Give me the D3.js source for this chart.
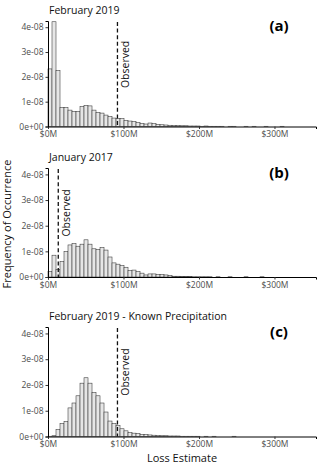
<!DOCTYPE html>
<html>
<head>
<meta charset="utf-8">
<script src="https://cdn.jsdelivr.net/npm/d3@7"></script>
<style>
  body { margin: 0; background: #fff; }
  svg text { font-family: "Open Sans", "Noto Sans", sans-serif; }
</style>
</head>
<body>
<div id="chart"></div>
<script>
// histogram bin width, in millions of dollars
let binWidth = 5.3

// bar heights, in units of 1e-08 (one value per bin, starting at $0M)
let densA = [2.32, 4.22, 2.25, 0.77, 0.76, 0.66, 0.61, 0.61, 0.80, 0.85,
  0.83, 0.66, 0.57, 0.54, 0.46, 0.40, 0.34, 0.33, 0.32, 0.25,
  0.22, 0.21, 0.16, 0.13, 0.10, 0.14, 0.12, 0.08, 0.07, 0.06,
  0.05, 0.04, 0.04, 0.03, 0.03, 0.02, 0.02, 0.02, 0.01, 0.02,
  0.01, 0.01, 0.01, 0.01, 0.00, 0.01, 0.01, 0.00, 0.00, 0.01,
  0.00, 0.01, 0.00, 0.00, 0.01, 0.00, 0.00, 0.00, 0.01, 0.00]

let densB = [0.22, 0.85, 0.30, 0.60, 1.00, 1.25, 1.30, 1.20, 1.28, 1.45,
  1.28, 1.10, 1.08, 1.15, 1.05, 0.78, 0.55, 0.50, 0.45, 0.38,
  0.25, 0.27, 0.22, 0.15, 0.08, 0.12, 0.12, 0.10, 0.10, 0.08,
  0.06, 0.03, 0.03, 0.02, 0.02, 0.02, 0.01, 0.01, 0.01, 0.01,
  0.01, 0.00, 0.01, 0.00, 0.00, 0.01, 0.00, 0.00, 0.00, 0.01,
  0.00, 0.00, 0.00, 0.01, 0.00, 0.00, 0.00, 0.00, 0.00, 0.00]

let densC = [0.01, 0.03, 0.27, 0.50, 0.59, 1.11, 1.30, 1.58, 2.07, 2.28,
  2.07, 1.71, 1.58, 1.30, 0.95, 0.60, 0.50, 0.42, 0.30, 0.22,
  0.15, 0.13, 0.12, 0.08, 0.07, 0.06, 0.05, 0.04, 0.03, 0.03,
  0.02, 0.02, 0.02, 0.01, 0.01, 0.01, 0.01, 0.01, 0.00, 0.01,
  0.00, 0.01, 0.00, 0.00, 0.00, 0.00, 0.01, 0.00, 0.00, 0.00]

// observed losses, in millions
let observed = [92, 13.6, 92]

let titles = ["February 2019", "January 2017", "February 2019 - Known Precipitation"]
let tags = ["(a)", "(b)", "(c)"]

let xTicks = [0, 100, 200, 300]
let xTickLabels = ["$0M", "$100M", "$200M", "$300M"]
let yTicks = [0, 1e-8, 2e-8, 3e-8, 4e-8]
let yTickLabels = ["0e+00", "1e-08", "2e-08", "3e-08", "4e-08"]

let width = 320, height = 466

let svg = d3.select("#chart")
  .append("svg")
  .attr("width", width)
  .attr("height", height)

// vertical extent of each panel
let panelBoxes = [
  {top: 21, bottom: 126.5},
  {top: 168, bottom: 277},
  {top: 327, bottom: 436.5}
]

let x = d3.scaleLinear().domain([0, 355]).range([48, 316])

let allDens = [densA, densB, densC]

allDens.forEach(function(dens, k) {
  drawPanel(dens, k)
})

function drawPanel(dens, k) {
  let box = panelBoxes[k]
  let y = d3.scaleLinear().domain([0, 4.25e-8]).range([box.bottom, box.top])
  let g = svg.append("g")

  // bars
  g.selectAll("rect")
    .data(dens)
    .enter()
    .append("rect")
    .attr("x", function(d, i) { return x(i * binWidth) })
    .attr("width", function(d, i) { return x((i + 1) * binWidth) - x(i * binWidth) })
    .attr("y", function(d) { return y(d * 1e-8) })
    .attr("height", function(d) { return box.bottom - y(d * 1e-8) })
    .attr("fill", "#e6e6e6")
    .attr("stroke", "#333")
    .attr("stroke-width", 0.55)

  // axes
  let xAxis = d3.axisBottom(x)
    .tickValues(xTicks)
    .tickFormat(function(d, i) { return xTickLabels[i] })
    .tickSize(2.5)
    .tickPadding(2)
  let yAxis = d3.axisLeft(y)
    .tickValues(yTicks)
    .tickFormat(function(d, i) { return yTickLabels[i] })
    .tickSize(2.5)
    .tickPadding(2)

  g.append("g")
    .attr("transform", "translate(0," + box.bottom + ")")
    .call(xAxis)
    .call(styleAxis)
  g.append("g")
    .attr("transform", "translate(" + x(0) + ",0)")
    .call(yAxis)
    .call(styleAxis)

  // observed line
  g.append("line")
    .attr("x1", x(observed[k]))
    .attr("x2", x(observed[k]))
    .attr("y1", box.top + 1)
    .attr("y2", box.bottom)
    .attr("stroke", "#111")
    .attr("stroke-width", 1.3)
    .attr("stroke-dasharray", "4,2.6")

  let ty = y(2.5e-8)
  g.append("text")
    .attr("transform", "translate(" + (x(observed[k]) + 11.5) + "," + ty + ") rotate(-90)")
    .attr("text-anchor", "middle")
    .attr("font-size", 10.5)
    .attr("fill", "#111")
    .text("Observed")

  // title and tag
  g.append("text")
    .attr("x", 49)
    .attr("y", box.top - 7)
    .attr("font-size", 10.5)
    .attr("fill", "#111")
    .text(titles[k])

  g.append("text")
    .attr("x", 279)
    .attr("y", box.top + 10)
    .attr("text-anchor", "middle")
    .attr("font-size", 15)
    .attr("font-weight", "bold")
    .attr("fill", "#000")
    .text(tags[k])
}

function styleAxis(sel) {
  sel.select(".domain").attr("stroke", "#000").attr("stroke-width", 1)
  sel.selectAll(".tick line").attr("stroke", "#333")
  sel.selectAll(".tick text")
    .attr("fill", "#4d4d4d")
    .attr("font-size", 8.5)
    .attr("font-family", "'Open Sans', sans-serif")
}

// shared axis titles
svg.append("text")
  .attr("transform", "translate(11,224) rotate(-90)")
  .attr("text-anchor", "middle")
  .attr("font-size", 11)
  .attr("fill", "#111")
  .text("Frequency of Occurrence")

svg.append("text")
  .attr("x", 182)
  .attr("y", 462)
  .attr("text-anchor", "middle")
  .attr("font-size", 11)
  .attr("fill", "#111")
  .text("Loss Estimate")
</script>
</body>
</html>
